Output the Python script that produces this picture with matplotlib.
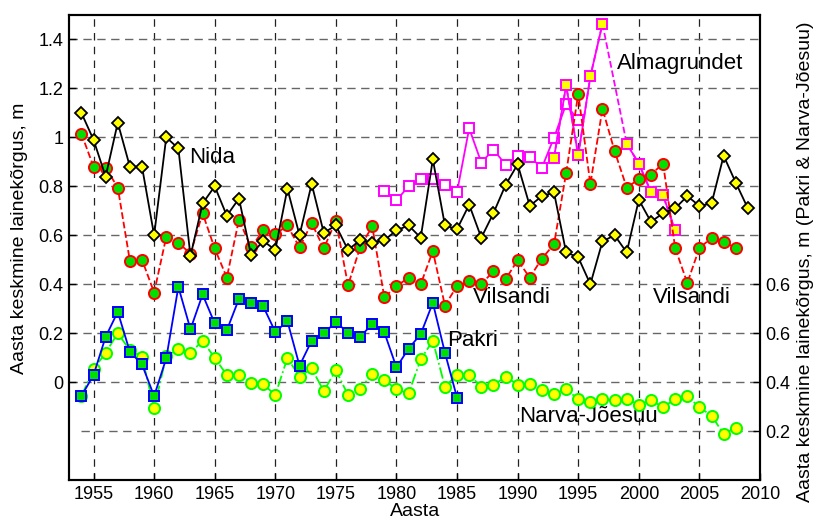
import numpy as np
import matplotlib
matplotlib.use("Agg")
import matplotlib.pyplot as plt

plt.rcParams['font.family'] = ['Liberation Sans', 'DejaVu Sans']

# yearly mean wave heights, m
nida_years = list(range(1954, 2010))
nida = [1.10, 0.99, 0.84, 1.06, 0.88, 0.88, 0.60, 1.00, 0.955, 0.515,
        0.73, 0.80, 0.68, 0.75, 0.52, 0.577, 0.54, 0.79, 0.60, 0.81,
        0.61, 0.64, 0.54, 0.58, 0.57, 0.58, 0.62, 0.64, 0.59, 0.91,
        0.64, 0.625, 0.725, 0.59, 0.69, 0.805, 0.89, 0.72, 0.76, 0.775,
        0.53, 0.51, 0.40, 0.575, 0.60, 0.53, 0.745, 0.655, 0.69, 0.71,
        0.76, 0.72, 0.73, 0.925, 0.815, 0.71]

vils_years = list(range(1954, 2009))
vilsandi = [1.015, 0.88, 0.876, 0.795, 0.495, 0.50, 0.366, 0.593, 0.569, 0.525,
            0.69, 0.546, 0.427, 0.664, 0.55, 0.62, 0.604, 0.64, 0.55, 0.65,
            0.546, 0.66, 0.396, 0.55, 0.637, 0.346, 0.393, 0.426, 0.40, 0.535,
            0.313, 0.393, 0.412, 0.40, 0.453, 0.42, 0.498, 0.427, 0.505, 0.563,
            0.854, 1.178, 0.81, 1.117, 0.944, 0.795, 0.829, 0.848, 0.893, 0.548,
            0.405, 0.548, 0.589, 0.573, 0.548]

alma1_years = list(range(1979, 1996))
alma1 = [0.78, 0.743, 0.80, 0.83, 0.83, 0.804, 0.777, 1.037, 0.897, 0.95,
         0.889, 0.924, 0.92, 0.876, 0.999, 1.135, 1.069]

alma2_years = list(range(1993, 2004))
alma2 = [0.917, 1.212, 0.927, 1.249, 1.464, np.nan, 0.974, 0.893, 0.777, 0.763, 0.62]

# right-hand scale (Pakri & Narva-Jõesuu)
pakri_years = list(range(1954, 1986))
pakri = [0.343, 0.429, 0.585, 0.687, 0.524, 0.472, 0.343, 0.497, 0.789, 0.616,
         0.758, 0.64, 0.612, 0.74, 0.724, 0.71, 0.605, 0.649, 0.467, 0.569,
         0.599, 0.646, 0.601, 0.585, 0.637, 0.603, 0.46, 0.537, 0.596, 0.724,
         0.52, 0.336]

narva_years = list(range(1954, 2009))
narva = [0.343, 0.453, 0.52, 0.60, 0.53, 0.503, 0.293, 0.506, 0.535, 0.52,
         0.569, 0.499, 0.429, 0.429, 0.397, 0.392, 0.347, 0.499, 0.422, 0.456,
         0.363, 0.449, 0.347, 0.371, 0.435, 0.408, 0.371, 0.354, 0.493, 0.569,
         0.381, 0.431, 0.431, 0.381, 0.387, 0.422, 0.39, 0.392, 0.367, 0.35,
         0.37, 0.331, 0.317, 0.329, 0.327, 0.333, 0.306, 0.327, 0.297, 0.331,
         0.343, 0.297, 0.263, 0.188, 0.214]

right_ticks = [0.2, 0.4, 0.6, 0.8]
right_labels = ['0.2', '0.4', '0.6', '0.6']

fig = plt.figure(figsize=(8.18, 5.23), dpi=100)
ax = fig.add_axes([69.3 / 818, 1 - 480 / 523, 690.7 / 818, 465 / 523])
ax2 = ax.twinx()

ax.set_xlim(1953, 2010)
ax.set_ylim(-0.4, 1.5)
ax2.set_ylim(0.0, 1.9)

# grid
for x in range(1955, 2010, 5):
    ax.axvline(x, color='#222222', lw=0.9, dashes=(6, 5), zorder=0)
for y in [0, 0.2, 0.4, 0.6, 0.8, 1.0, 1.2, 1.4]:
    ax.axhline(y, color='#666666', lw=1.0, dashes=(6, 4), zorder=0)
ax2.hlines(0.2, 1954, 2010, color='#666666', lw=1.0, linestyles=(0, (6, 4)), zorder=0)

lw = 1.3

# Almagrundet
ax.plot(alma1_years, alma1, '-', color='#ff00ff', lw=lw, marker='s', ms=7,
        mfc='white', mec='#ff00ff', mew=1.4, zorder=3)
a2y = np.array(alma2_years)
a2 = np.array(alma2)
ok = ~np.isnan(a2)
ax.plot(a2y[ok], a2[ok], '--', color='#ff00ff', lw=lw, zorder=3)
ax.plot(a2y, a2, '-', color='#ff00ff', lw=lw, marker='s', ms=7,
        mfc='#ffff00', mec='#ff00ff', mew=1.4, zorder=3)

# Vilsandi
ax.plot(vils_years, vilsandi, '--', color='#ff0000', lw=lw, marker='o', ms=8,
        mfc='#00e000', mec='#ff0000', mew=1.4, zorder=4)

# Nida
ax.plot(nida_years, nida, '-', color='black', lw=lw, marker='D', ms=6.5,
        mfc='#ffff00', mec='black', mew=1.3, zorder=5)

# Narva-Jõesuu and Pakri on right scale
ax2.plot(narva_years, narva, '-.', color='#00ff00', lw=lw, marker='o', ms=8,
         mfc='#ffff00', mec='#00ff00', mew=1.4, zorder=3)
ax2.plot(pakri_years, pakri, '-', color='#0000ff', lw=lw, marker='s', ms=7,
         mfc='#00e000', mec='#0000ff', mew=1.4, zorder=4)

# ticks
ax.set_xticks(range(1955, 2011, 5))
ax.set_yticks([0, 0.2, 0.4, 0.6, 0.8, 1.0, 1.2, 1.4])
ax.set_yticklabels(['0', '0.2', '0.4', '0.6', '0.8', '1', '1.2', '1.4'])
ax2.set_yticks(right_ticks)
ax2.set_yticklabels(right_labels)
ax.tick_params(axis='both', direction='in', length=5, width=1, labelsize=13, pad=4)
ax2.tick_params(axis='y', direction='in', length=5, width=1, labelsize=13, pad=4)
for a in (ax, ax2):
    for s in a.spines.values():
        s.set_linewidth(1.5)

# station names
tfs = 16
ax.text(1962.9, 0.919, 'Nida', fontsize=tfs, va='center', ha='left')
ax.text(1998.2, 1.303, 'Almagrundet', fontsize=tfs, va='center', ha='left')
ax.text(1986.3, 0.346, 'Vilsandi', fontsize=tfs, va='center', ha='left')
ax.text(2001.2, 0.346, 'Vilsandi', fontsize=tfs, va='center', ha='left')
ax.text(1984.2, 0.17, 'Pakri', fontsize=tfs, va='center', ha='left')
ax.text(1990.1, -0.14, 'Narva-Jõesuu', fontsize=tfs, va='center', ha='left')

fig.text(415 / 818, 1 - 512 / 523, 'Aasta', fontsize=14, ha='center', va='center')
fig.text(20 / 818, 1 - 238 / 523, 'Aasta keskmine lainekõrgus, m', fontsize=14,
         rotation=90, ha='center', va='center')
fig.text(806 / 818, 1 - 262 / 523, 'Aasta keskmine lainekõrgus, m (Pakri & Narva-Jõesuu)',
         fontsize=14, rotation=90, ha='center', va='center')

fig.savefig('out.png', dpi=100)
